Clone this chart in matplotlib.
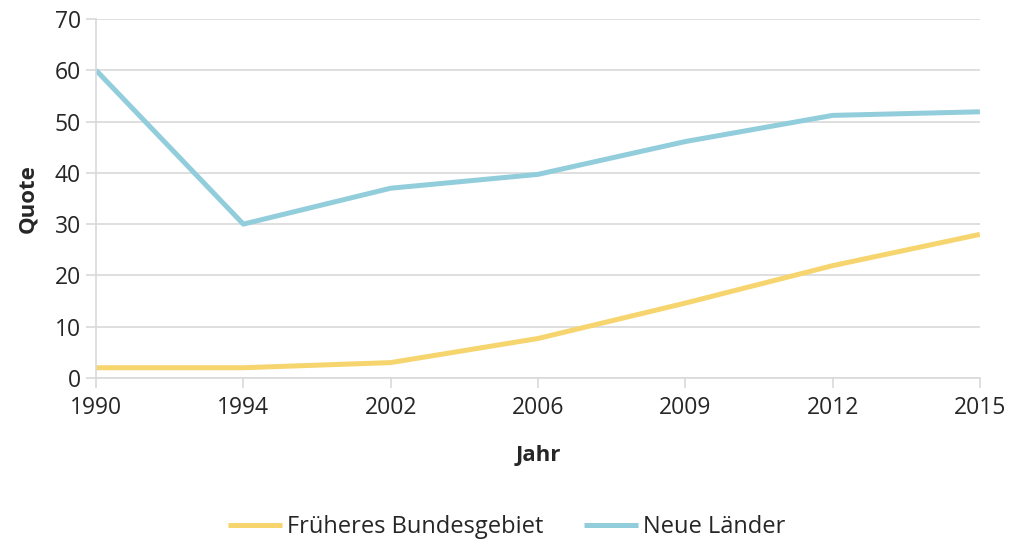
import matplotlib
matplotlib.use("Agg")
import matplotlib.pyplot as plt
import numpy as np

years = ["1990", "1994", "2002", "2006", "2009", "2012", "2015"]
frueheres_bundesgebiet = [2.0, 2.0, 3.0, 7.7, 14.6, 21.9, 28.0]
neue_laender = [60.0, 30.0, 37.0, 39.7, 46.1, 51.2, 51.9]

YELLOW = "#F6D56F"
BLUE   = "#92CDDC"
GRID   = "#D9D9D9"
TEXT   = "#262626"

plt.rcParams["font.family"] = ["Open Sans", "DejaVu Sans"]

fig = plt.figure(figsize=(10.13, 5.42), dpi=100)
ax = fig.add_axes([0.0948, 0.3026, 0.8725, 0.6624])

x = np.arange(len(years))
ax.plot(x, frueheres_bundesgebiet, color=YELLOW, linewidth=3.6,
        solid_capstyle="butt", label="Früheres Bundesgebiet")
ax.plot(x, neue_laender, color=BLUE, linewidth=3.6,
        solid_capstyle="butt", label="Neue Länder")

ax.set_xlim(0, len(years) - 1)
ax.set_ylim(0, 70)
ax.set_xticks(x)
ax.set_xticklabels(years)
ax.set_yticks(range(0, 71, 10))

ax.grid(True, axis="y", color=GRID, linewidth=1.2)
ax.set_axisbelow(True)
for side in ("top", "right"):
    ax.spines[side].set_visible(False)
ax.spines["left"].set_color(GRID)
ax.spines["bottom"].set_color(GRID)
ax.spines["left"].set_linewidth(1.2)
ax.spines["bottom"].set_linewidth(1.2)

ax.tick_params(axis="both", colors=GRID, labelcolor=TEXT, labelsize=16.5,
               length=7, width=1.2)
ax.tick_params(axis="x", pad=6)
ax.tick_params(axis="y", pad=4)

ax.set_ylabel("Quote", fontsize=16, fontweight="bold", color=TEXT, labelpad=12)
ax.set_xlabel("Jahr", fontsize=16, fontweight="bold", color=TEXT, labelpad=18)

fig.legend(loc="center", bbox_to_anchor=(0.5, 0.028), ncol=2, frameon=False,
           fontsize=17, handlelength=2.3, handletextpad=0.2, columnspacing=1.7,
           labelcolor=TEXT)

fig.savefig("out.png", dpi=100)
